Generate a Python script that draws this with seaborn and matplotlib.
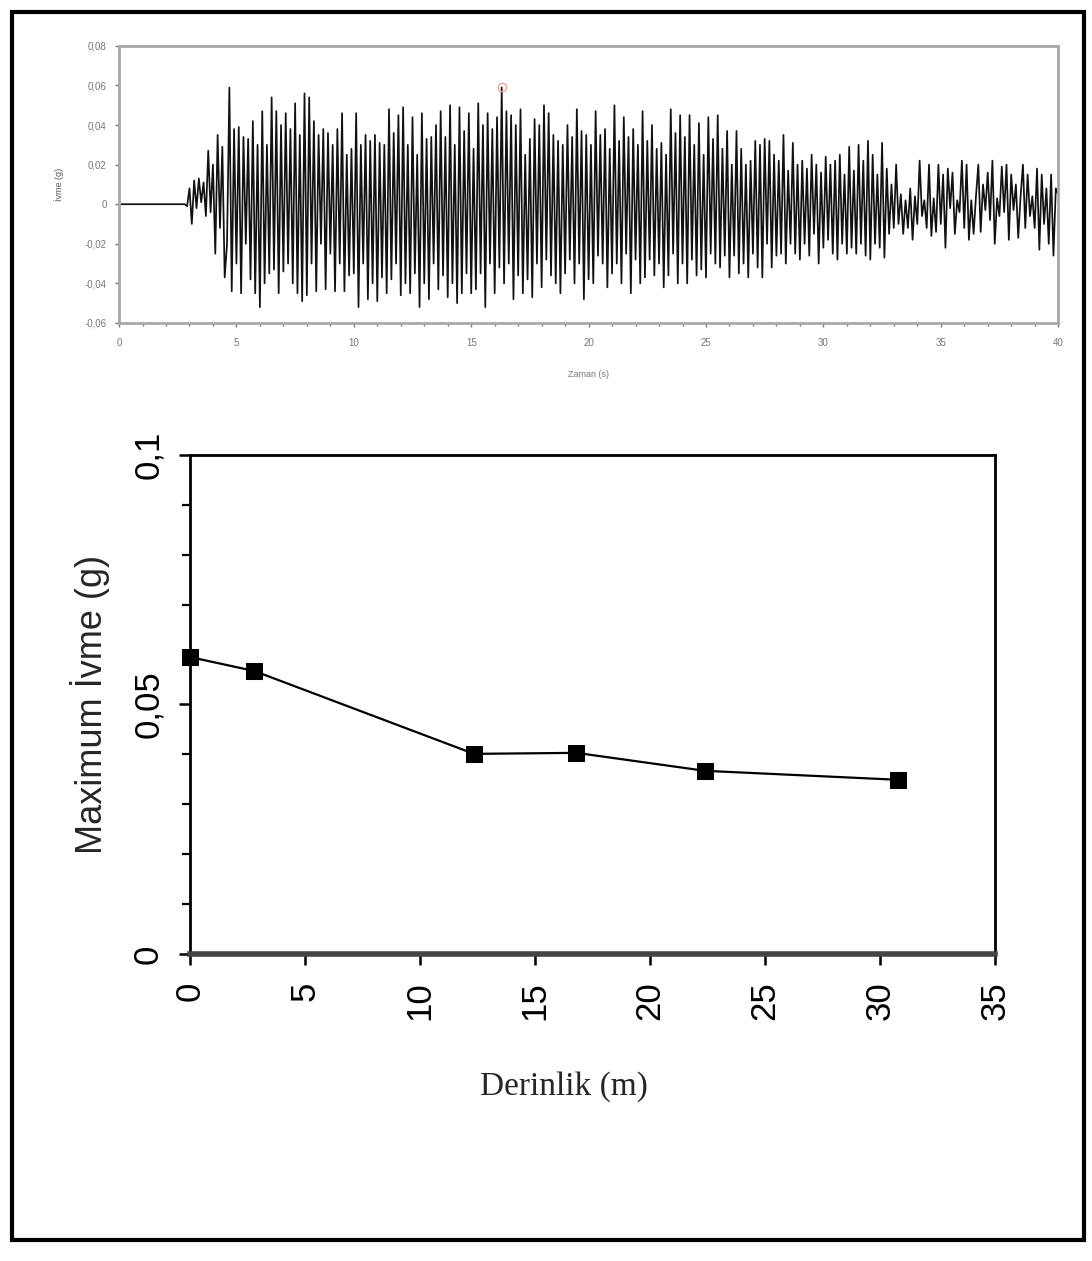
import numpy as np
import pandas as pd
import matplotlib
matplotlib.use('Agg')
import matplotlib.pyplot as plt
import matplotlib.ticker as mticker
from matplotlib.patches import Rectangle
import seaborn as sns

# ivme kaydi (g), 0.1 s araliklarla okunan tepe degerleri, 2.8 s'den 40 s'ye
acc_start = 2.8
acc_step = 0.1
acc_values = [
    0.0, -0.001,
    0.008, -0.010, 0.012, -0.002, 0.013, 0.001, 0.011, -0.006, 0.027, -0.004,
    0.020, -0.025, 0.035, -0.012, 0.029, -0.037, -0.020, 0.059, -0.044, 0.038,
    -0.030, 0.039, -0.045, 0.034, -0.020, 0.033, -0.038, 0.042, -0.045, 0.030,
    -0.052, 0.047, -0.040, 0.030, -0.035, 0.054, -0.033, 0.047, -0.045, 0.040,
    -0.034, 0.046, -0.030, 0.038, -0.040, 0.051, -0.045, 0.035, -0.049, 0.056,
    -0.046, 0.054, -0.030, 0.042, -0.044, 0.035, -0.020, 0.038, -0.043, 0.036,
    -0.025, 0.030, -0.044, 0.038, -0.030, 0.046, -0.044, 0.025, -0.036, 0.028,
    -0.035, 0.046, -0.052, 0.030, -0.030, 0.035, -0.048, 0.032, -0.040, 0.035,
    -0.049, 0.031, -0.037, 0.030, -0.045, 0.048, -0.038, 0.036, -0.030, 0.045,
    -0.046, 0.049, -0.040, 0.030, -0.045, 0.044, -0.035, 0.025, -0.052, 0.046,
    -0.040, 0.033, -0.048, 0.034, -0.030, 0.040, -0.043, 0.047, -0.036, 0.034,
    -0.047, 0.050, -0.040, 0.030, -0.050, 0.049, -0.045, 0.037, -0.035, 0.046,
    -0.045, 0.028, -0.043, 0.051, -0.035, 0.040, -0.052, 0.046, -0.030, 0.038,
    -0.045, 0.044, -0.032, 0.059, -0.040, 0.047, -0.030, 0.045, -0.048, 0.040,
    -0.036, 0.048, -0.045, 0.025, -0.038, 0.033, -0.047, 0.043, -0.030, 0.040,
    -0.042, 0.050, -0.028, 0.046, -0.036, 0.035, -0.040, 0.032, -0.045, 0.030,
    -0.035, 0.040, -0.028, 0.034, -0.040, 0.048, -0.030, 0.037, -0.048, 0.035,
    -0.038, 0.030, -0.040, 0.047, -0.026, 0.035, -0.030, 0.038, -0.042, 0.028,
    -0.035, 0.050, -0.030, 0.032, -0.040, 0.044, -0.025, 0.034, -0.045, 0.038,
    -0.028, 0.030, -0.040, 0.047, -0.037, 0.032, -0.028, 0.040, -0.036, 0.028,
    -0.030, 0.031, -0.042, 0.025, -0.036, 0.048, -0.025, 0.036, -0.040, 0.045,
    -0.030, 0.034, -0.040, 0.045, -0.028, 0.030, -0.036, 0.041, -0.033, 0.025,
    -0.037, 0.044, -0.025, 0.033, -0.030, 0.045, -0.032, 0.028, -0.026, 0.037,
    -0.037, 0.020, -0.026, 0.037, -0.035, 0.028, -0.030, 0.020, -0.037, 0.022,
    -0.025, 0.032, -0.032, 0.030, -0.037, 0.033, -0.020, 0.032, -0.032, 0.025,
    -0.026, 0.022, -0.025, 0.035, -0.030, 0.017, -0.020, 0.031, -0.025, 0.020,
    -0.028, 0.022, -0.020, 0.018, -0.026, 0.025, -0.015, 0.020, -0.030, 0.016,
    -0.022, 0.024, -0.018, 0.020, -0.025, 0.022, -0.028, 0.025, -0.020, 0.015,
    -0.025, 0.029, -0.022, 0.017, -0.025, 0.030, -0.020, 0.022, -0.026, 0.032,
    -0.028, 0.025, -0.020, 0.015, -0.022, 0.031, -0.027, 0.018, -0.015, 0.010,
    -0.012, 0.020, -0.010, 0.005, -0.015, 0.002, -0.012, 0.008, -0.018, 0.004,
    -0.010, 0.022, -0.006, 0.002, -0.012, 0.020, -0.016, 0.003, -0.014, 0.020,
    -0.010, 0.015, -0.022, 0.018, -0.002, 0.016, -0.015, 0.002, -0.004, 0.022,
    -0.012, 0.020, -0.018, 0.002, -0.015, 0.004, 0.020, -0.014, 0.010, -0.003,
    0.016, -0.008, 0.022, -0.020, 0.003, -0.006, 0.019, -0.004, 0.020, -0.018,
    0.015, -0.003, 0.010, -0.017, 0.004, 0.020, -0.012, 0.015, -0.006, 0.004,
    -0.012, 0.018, -0.023, 0.015, -0.010, 0.008, -0.020, 0.015, -0.026, 0.008,
    0.005,
]
peak_time = 16.3
peak_acc = 0.059

# derinlige gore maksimum ivme
depth = [0.0, 2.8, 12.35, 16.8, 22.4, 30.8]
max_acc = [0.0595, 0.0567, 0.0401, 0.0403, 0.0367, 0.0349]

acc_time = [0.0] + list(np.round(acc_start + acc_step * np.arange(len(acc_values)), 2))
acc_df = pd.DataFrame({'t': acc_time, 'a': [0.0] + acc_values})
prof_df = pd.DataFrame({'depth': depth, 'amax': max_acc})


def comma(v, pos=None):
    if abs(v) < 1e-12:
        return '0'
    s = ('%.2f' % v).rstrip('0')
    return s.replace('.', ',')


sns.set_theme(style='white')
plt.rcParams['font.family'] = ['Liberation Sans', 'DejaVu Sans']

fig = plt.figure(figsize=(10.92, 12.61), dpi=100)

# --- ust grafik: ivme kaydi ---
ax1 = fig.add_axes([0.109, 0.7439, 0.860, 0.2197])
sns.lineplot(data=acc_df, x='t', y='a', ax=ax1, color='#111111', linewidth=1.25,
             estimator=None, sort=False)
ax1.plot([peak_time], [peak_acc], 'o', mfc='none', mec='#f4a0a0', ms=6, mew=1)
ax1.set_xlim(0, 40)
ax1.set_ylim(-0.06, 0.08)
ax1.set_xticks(np.arange(0, 41, 5))
ax1.xaxis.set_minor_locator(mticker.MultipleLocator(1))
ax1.set_yticks(np.arange(-0.06, 0.081, 0.02))
ax1.yaxis.set_major_formatter(mticker.FuncFormatter(comma))
for sp in ax1.spines.values():
    sp.set_color('#a8a8a8')
    sp.set_linewidth(2)
ax1.tick_params(axis='both', which='both', direction='out', colors='#777777',
                labelsize=7, length=3, width=1, bottom=True, left=True)
ax1.tick_params(axis='x', which='major', pad=8)
ax1.tick_params(axis='y', which='major', pad=6)
ax1.tick_params(axis='x', which='minor', length=2)
ax1.set_xlabel('Zaman (s)', fontsize=6.5, color='#777777', labelpad=16)
ax1.set_ylabel('İvme (g)', fontsize=6.5, color='#555555', labelpad=15)

# --- alt grafik: derinlik - maksimum ivme ---
ax2 = fig.add_axes([0.174, 0.2435, 0.737, 0.3957])
sns.lineplot(data=prof_df, x='depth', y='amax', ax=ax2, color='black', linewidth=1.6,
             marker='s', markersize=11, markeredgecolor='black', markerfacecolor='black',
             estimator=None, sort=False, clip_on=False, zorder=5)
ax2.set_xlim(0, 35)
ax2.set_ylim(0, 0.1)
ax2.set_xticks(np.arange(0, 36, 5))
ax2.set_yticks([0, 0.05, 0.1])
ax2.yaxis.set_minor_locator(mticker.MultipleLocator(0.01))
ax2.yaxis.set_major_formatter(mticker.FuncFormatter(comma))
for sp in ax2.spines.values():
    sp.set_color('black')
    sp.set_linewidth(2)
ax2.spines['bottom'].set_color('#444444')
ax2.spines['bottom'].set_linewidth(4)
ax2.tick_params(axis='both', which='both', direction='out', colors='black',
                labelsize=25, length=8, width=1.8, bottom=True, left=True)
ax2.tick_params(axis='x', which='major', pad=12)
ax2.tick_params(axis='y', which='major', pad=10)
ax2.tick_params(axis='y', which='minor', length=6, width=1.6)
for lab in ax2.get_xticklabels():
    lab.set_rotation(90)
for lab in ax2.get_yticklabels():
    lab.set_rotation(90)
    lab.set_verticalalignment('center')
ax2.set_ylabel('Maximum İvme (g)', fontsize=26, labelpad=16)
ax2.set_xlabel('Derinlik (m)', fontsize=24, family=['Liberation Serif', 'DejaVu Serif'],
               labelpad=34)
ax2.xaxis.set_label_coords(0.465, -0.235)

# dis cerceve
fig.patches.append(Rectangle((12 / 1092, 1 - 1240 / 1261), 1072 / 1092, 1228 / 1261,
                             transform=fig.transFigure, fill=False, edgecolor='black',
                             linewidth=3))

fig.savefig('out.png', dpi=100)
